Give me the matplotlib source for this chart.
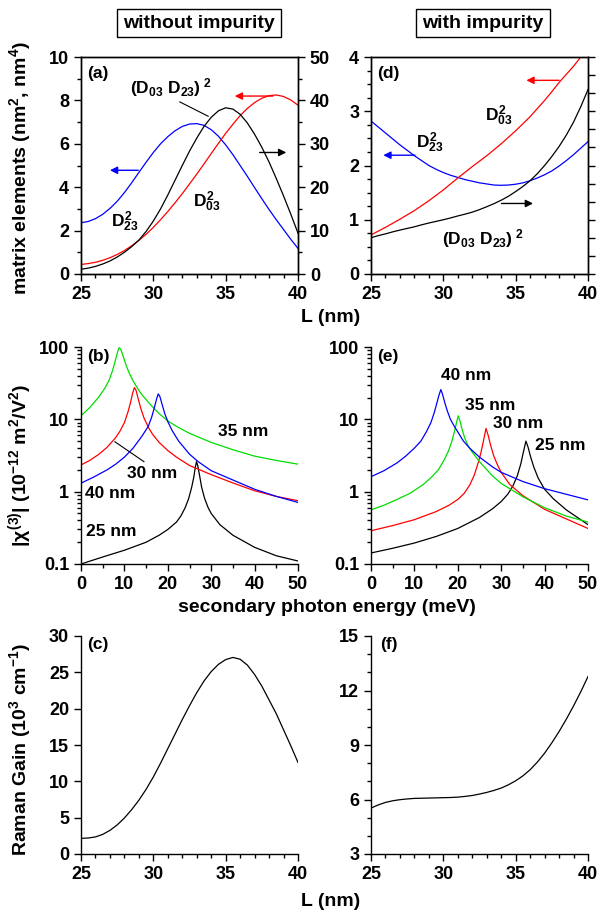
import matplotlib
matplotlib.use("Agg")
import matplotlib.pyplot as plt
from matplotlib.ticker import MultipleLocator, FuncFormatter, NullFormatter, LogLocator, FixedLocator

plt.rcParams['font.family'] = ['Liberation Sans', 'DejaVu Sans']
plt.rcParams['font.weight'] = 'bold'
plt.rcParams['axes.labelweight'] = 'bold'
plt.rcParams['mathtext.fontset'] = 'custom'
plt.rcParams['mathtext.rm'] = 'Liberation Sans:bold'
plt.rcParams['mathtext.it'] = 'Liberation Sans:bold'
plt.rcParams['mathtext.bf'] = 'Liberation Sans:bold'
plt.rcParams['mathtext.sf'] = 'Liberation Sans:bold'

# ---------------- data ----------------
L = [25, 25.5, 26, 26.5, 27, 27.5, 28, 28.5, 29, 29.5, 30, 30.5, 31, 31.5, 32, 32.5,
     33, 33.5, 34, 34.5, 35, 35.5, 36, 36.5, 37, 37.5, 38, 38.5, 39, 39.5, 40]

# (a) without impurity
a_D23 = [2.36, 2.42, 2.55, 2.75, 3.02, 3.35, 3.75, 4.2, 4.68, 5.15, 5.6, 6.0, 6.33, 6.6, 6.8, 6.91,
         6.93, 6.85, 6.65, 6.35, 5.95, 5.5, 5.0, 4.5, 3.98, 3.47, 2.97, 2.5, 2.05, 1.6, 1.18]
a_D03 = [0.44, 0.48, 0.54, 0.63, 0.75, 0.9, 1.08, 1.3, 1.55, 1.83, 2.15, 2.5, 2.88, 3.28, 3.7, 4.15,
         4.6, 5.07, 5.55, 6.02, 6.48, 6.9, 7.3, 7.63, 7.9, 8.1, 8.22, 8.25, 8.18, 8.02, 7.78]
a_D03D23 = [1.1, 1.35, 1.75, 2.3, 3.0, 3.9, 5.0, 6.3, 7.8, 9.8, 12.2, 15.0, 18.2, 21.6, 25.0, 28.3,
            31.3, 34.0, 36.1, 37.6, 38.3, 38.0, 36.8, 34.8, 32.2, 29.2, 25.8, 22.0, 18.0, 13.8, 9.4]

# (d) with impurity
d_D23 = [2.82, 2.71, 2.6, 2.49, 2.38, 2.28, 2.18, 2.09, 2.0, 1.93, 1.87, 1.82, 1.78, 1.74, 1.71, 1.68,
         1.66, 1.64, 1.635, 1.64, 1.655, 1.68, 1.72, 1.77, 1.83, 1.9, 1.99, 2.09, 2.2, 2.32, 2.44]
d_D03 = [0.72, 0.79, 0.86, 0.935, 1.01, 1.09, 1.17, 1.26, 1.35, 1.45, 1.55, 1.66, 1.77, 1.875, 1.98, 2.08,
         2.18, 2.29, 2.4, 2.52, 2.64, 2.77, 2.9, 3.05, 3.2, 3.36, 3.53, 3.68, 3.83, 4.0, 4.17]
d_D03D23 = [2.01, 2.12, 2.22, 2.33, 2.43, 2.52, 2.61, 2.72, 2.82, 2.91, 3.0, 3.1, 3.21, 3.31, 3.42, 3.56,
            3.72, 3.89, 4.08, 4.3, 4.56, 4.84, 5.16, 5.55, 6.0, 6.5, 7.05, 7.68, 8.4, 9.25, 10.2]

# (b) |chi3| without impurity
b_E25 = [0, 5, 10, 15, 18, 20, 22, 23, 24, 24.8, 25.5, 26, 26.3, 26.6, 26.9, 27.3, 27.8, 28.5, 29.3, 30, 32, 35, 40, 45, 50]
b_V25 = [0.1, 0.125, 0.155, 0.2, 0.25, 0.3, 0.38, 0.46, 0.6, 0.8, 1.15, 1.6, 2.1, 2.6, 2.3, 1.7, 1.15, 0.8, 0.6, 0.5, 0.35, 0.25, 0.17, 0.13, 0.11]
b_E30 = [0, 2, 4, 6, 8, 9, 10, 10.8, 11.4, 11.9, 12.3, 12.7, 13.2, 13.8, 14.5, 15.5, 16.5, 18, 20, 22, 25, 30, 35, 40, 45, 50]
b_V30 = [2.34, 2.7, 3.25, 4.1, 5.6, 6.9, 9.0, 12.5, 17, 23, 27.5, 25, 19, 14, 10.5, 7.8, 6.2, 4.8, 3.7, 3.0, 2.3, 1.72, 1.32, 1.03, 0.86, 0.75]
b_E35 = [0, 2, 4, 5.5, 6.5, 7.3, 8, 8.5, 8.8, 9.2, 9.7, 10.3, 11, 12, 13, 14, 16, 18, 20, 22, 25, 30, 35, 40, 45, 50]
b_V35 = [11.2, 14.5, 20, 27, 35, 48, 68, 88, 98, 92, 75, 58, 45, 34, 27, 22, 16, 12, 9.5, 8.0, 6.4, 4.8, 3.8, 3.1, 2.7, 2.4]
b_E40 = [0, 3, 6, 8, 10, 12, 14, 15.5, 16.3, 16.9, 17.4, 17.8, 18.2, 18.7, 19.3, 20, 21, 22.5, 25, 27, 30, 35, 40, 45, 50]
b_V40 = [1.31, 1.6, 2.0, 2.4, 3.0, 4.0, 5.8, 8.0, 10.8, 14.5, 19, 22.5, 20.5, 16, 12, 9.3, 7.0, 5.0, 3.3, 2.6, 1.95, 1.45, 1.08, 0.86, 0.71]

# (e) |chi3| with impurity
e_E25 = [0, 5, 10, 15, 20, 25, 28, 30, 31.5, 32.7, 33.7, 34.5, 35.1, 35.7, 36.2, 36.8, 37.5, 38.5, 40, 42, 45, 50]
e_V25 = [0.142, 0.165, 0.195, 0.24, 0.31, 0.44, 0.58, 0.73, 0.92, 1.2, 1.65, 2.4, 3.5, 5.0, 4.1, 3.0, 2.2, 1.55, 1.08, 0.8, 0.56, 0.35]
e_E30 = [0, 5, 10, 15, 18, 20, 21.5, 22.8, 23.8, 24.6, 25.3, 25.9, 26.5, 27.0, 27.6, 28.3, 29.2, 30, 32, 35, 40, 45, 50]
e_V30 = [0.288, 0.34, 0.41, 0.53, 0.65, 0.78, 0.95, 1.25, 1.7, 2.4, 3.4, 5.0, 7.5, 6.0, 4.3, 3.1, 2.3, 1.85, 1.25, 0.88, 0.57, 0.42, 0.31]
e_E35 = [0, 3, 6, 9, 12, 14, 15.5, 16.8, 17.8, 18.6, 19.2, 19.7, 20.1, 20.5, 21.0, 21.6, 22.3, 23.2, 25, 28, 30, 35, 40, 45, 50]
e_V35 = [0.56, 0.65, 0.78, 0.95, 1.25, 1.6, 2.0, 2.7, 3.6, 4.9, 6.7, 9.0, 11.2, 9.5, 7.2, 5.5, 4.4, 3.6, 2.6, 1.65, 1.3, 0.85, 0.6, 0.46, 0.38]
e_E40 = [0, 3, 6, 8, 10, 11.5, 12.8, 13.8, 14.6, 15.2, 15.7, 16.1, 16.5, 17.0, 17.6, 18.3, 19.2, 20, 21.3, 22.8, 25, 28, 30, 35, 40, 45, 50]
e_V40 = [1.61, 1.95, 2.5, 3.1, 4.0, 5.0, 6.8, 9.0, 12.5, 17, 22, 25.8, 22, 17, 13, 10, 8.0, 6.7, 5.0, 3.96, 3.0, 2.2, 1.85, 1.38, 1.1, 0.92, 0.77]

# (c), (f) Raman gain
c_gain = [2.15, 2.2, 2.35, 2.7, 3.25, 4.0, 4.95, 6.1, 7.4, 8.9, 10.6, 12.5, 14.5, 16.5, 18.5, 20.4,
          22.2, 23.8, 25.1, 26.1, 26.75, 27.05, 26.8, 26.0, 24.7, 23.1, 21.2, 19.3, 17.1, 14.9, 12.6]
f_gain = [5.53, 5.7, 5.84, 5.93, 5.99, 6.03, 6.06, 6.07, 6.08, 6.09, 6.1, 6.11, 6.13, 6.17, 6.22, 6.3,
          6.39, 6.5, 6.63, 6.81, 7.03, 7.3, 7.64, 8.06, 8.55, 9.12, 9.74, 10.42, 11.15, 11.93, 12.77]

# ---------------- figure ----------------
W, H = 598, 916
fig = plt.figure(figsize=(W / 100, H / 100), dpi=100)

def box(x0, y_top, x1, y_bot):
    return [x0 / W, 1 - y_bot / H, (x1 - x0) / W, (y_bot - y_top) / H]

TFS = 13
NFS = 12.5
LW = 0.9

def style(ax, full=False):
    for s in ax.spines.values():
        s.set_linewidth(1.0)
    if not full:
        ax.spines['top'].set_visible(False)
        ax.spines['right'].set_visible(False)
    ax.tick_params(which='both', direction='out', labelsize=TFS, width=1.0, top=False, right=False)
    ax.tick_params(which='major', length=5)
    ax.tick_params(which='minor', length=3)

axa = fig.add_axes(box(81, 57, 298, 274))
axd = fig.add_axes(box(371, 57, 588, 274))
axb = fig.add_axes(box(81, 347, 298, 564))
axe = fig.add_axes(box(371, 347, 588, 564))
axc = fig.add_axes(box(81, 636, 298, 854))
axf = fig.add_axes(box(371, 636, 588, 854))

arrow_kw = dict(arrowstyle='-|>', lw=1.0, mutation_scale=11, shrinkA=0, shrinkB=0)

# ----- (a)
style(axa, full=True)
axa.plot(L, a_D23, color='blue', lw=LW)
axa.plot(L, a_D03, color='red', lw=LW)
axa.set_xlim(25, 40)
axa.set_ylim(0, 10)
axa.xaxis.set_major_locator(MultipleLocator(5))
axa.xaxis.set_minor_locator(MultipleLocator(1))
axa.yaxis.set_major_locator(MultipleLocator(2))
axa.yaxis.set_minor_locator(MultipleLocator(1))
axa2 = axa.twinx()
axa2.plot(L, a_D03D23, color='black', lw=LW)
axa2.set_ylim(0, 50)
axa2.yaxis.set_major_locator(MultipleLocator(10))
axa2.yaxis.set_minor_locator(MultipleLocator(5))
axa2.tick_params(which='both', direction='out', labelsize=TFS, width=1.0)
axa2.tick_params(which='major', length=5)
axa2.tick_params(which='minor', length=3)
for s in axa2.spines.values():
    s.set_linewidth(1.0)
axa.text(0.03, 0.96, '(a)', transform=axa.transAxes, ha='left', va='top', fontsize=NFS)
axa.text(31.19, 8.59, r'$(D_{03}\ D_{23})^{\ 2}$', ha='center', va='center', fontsize=NFS)
axa.plot([31.83, 33.79], [7.93, 7.27], color='black', lw=0.8)
axa.text(28.04, 2.41, r'$D_{23}^{2}$', ha='center', va='center', fontsize=NFS)
axa.text(33.67, 3.33, r'$D_{03}^{2}$', ha='center', va='center', fontsize=NFS)
axa.annotate('', xy=(27.0, 4.78), xytext=(28.96, 4.78), arrowprops=dict(color='blue', **arrow_kw))
axa.annotate('', xy=(35.63, 8.2), xytext=(38.27, 8.2), arrowprops=dict(color='red', **arrow_kw))
axa.annotate('', xy=(39.19, 5.6), xytext=(37.35, 5.6), arrowprops=dict(color='black', **arrow_kw))

# ----- (d)
style(axd, full=True)
axd.plot(L, d_D23, color='blue', lw=LW)
axd.plot(L, d_D03, color='red', lw=LW)
axd.set_xlim(25, 40)
axd.set_ylim(0, 4)
axd.xaxis.set_major_locator(MultipleLocator(5))
axd.xaxis.set_minor_locator(MultipleLocator(1))
axd.yaxis.set_major_locator(MultipleLocator(1))
axd.yaxis.set_minor_locator(MultipleLocator(0.25))
axd2 = axd.twinx()
axd2.plot(L, d_D03D23, color='black', lw=LW)
axd2.set_ylim(0, 12)
axd2.yaxis.set_major_locator(MultipleLocator(1))
axd2.tick_params(which='both', direction='out', labelright=False, width=1.0, length=5)
for s in axd2.spines.values():
    s.set_linewidth(1.0)
axd.text(0.03, 0.96, '(d)', transform=axd.transAxes, ha='left', va='top', fontsize=NFS)
axd.text(32.75, 0.66, r'$(D_{03}\ D_{23})^{\ 2}$', ha='center', va='center', fontsize=NFS)
axd.text(29.07, 2.42, r'$D_{23}^{2}$', ha='center', va='center', fontsize=NFS)
axd.text(33.8, 2.91, r'$D_{03}^{2}$', ha='center', va='center', fontsize=NFS)
axd.annotate('', xy=(25.85, 2.19), xytext=(28.04, 2.19), arrowprops=dict(color='blue', **arrow_kw))
axd.annotate('', xy=(35.74, 3.57), xytext=(38.0, 3.57), arrowprops=dict(color='red', **arrow_kw))
axd.annotate('', xy=(36.2, 1.30), xytext=(34.02, 1.30), arrowprops=dict(color='black', **arrow_kw))

# ----- (b), (e)
def logstyle(ax):
    style(ax)
    ax.set_yscale('log')
    ax.set_ylim(0.1, 100)
    ax.set_xlim(0, 50)
    ax.xaxis.set_major_locator(MultipleLocator(10))
    ax.xaxis.set_minor_locator(MultipleLocator(5))
    ax.yaxis.set_major_locator(FixedLocator([0.1, 1, 10, 100]))
    ax.yaxis.set_major_formatter(FuncFormatter(lambda v, p: f'{v:g}'))
    ax.yaxis.set_minor_locator(LogLocator(base=10, subs=[2, 3, 4, 5, 6, 7, 8, 9]))
    ax.yaxis.set_minor_formatter(NullFormatter())

GREEN = '#00dd00'
logstyle(axb)
axb.plot(b_E25, b_V25, color='black', lw=LW)
axb.plot(b_E30, b_V30, color='red', lw=LW)
axb.plot(b_E35, b_V35, color=GREEN, lw=LW)
axb.plot(b_E40, b_V40, color='blue', lw=LW)
axb.text(0.03, 0.99, '(b)', transform=axb.transAxes, ha='left', va='top', fontsize=NFS)
axb.text(37.3, 6.7, '35 nm', ha='center', va='center', fontsize=NFS)
axb.text(16.3, 1.76, '30 nm', ha='center', va='center', fontsize=NFS)
axb.text(6.8, 0.95, '40 nm', ha='center', va='center', fontsize=NFS)
axb.text(7.05, 0.28, '25 nm', ha='center', va='center', fontsize=NFS)
axb.plot([7.8, 14.5], [4.9, 2.6], color='black', lw=0.8)

logstyle(axe)
axe.plot(e_E25, e_V25, color='black', lw=LW)
axe.plot(e_E30, e_V30, color='red', lw=LW)
axe.plot(e_E35, e_V35, color=GREEN, lw=LW)
axe.plot(e_E40, e_V40, color='blue', lw=LW)
axe.text(0.03, 0.99, '(e)', transform=axe.transAxes, ha='left', va='top', fontsize=NFS)
axe.text(22.0, 40.6, '40 nm', ha='center', va='center', fontsize=NFS)
axe.text(27.4, 15.7, '35 nm', ha='center', va='center', fontsize=NFS)
axe.text(33.9, 8.8, '30 nm', ha='center', va='center', fontsize=NFS)
axe.text(43.5, 4.4, '25 nm', ha='center', va='center', fontsize=NFS)

# ----- (c), (f)
style(axc)
axc.plot(L, c_gain, color='black', lw=LW)
axc.set_xlim(25, 40)
axc.set_ylim(0, 30)
axc.xaxis.set_major_locator(MultipleLocator(5))
axc.xaxis.set_minor_locator(MultipleLocator(1))
axc.yaxis.set_major_locator(MultipleLocator(5))
axc.text(0.03, 0.995, '(c)', transform=axc.transAxes, ha='left', va='top', fontsize=NFS)

style(axf)
axf.plot(L, f_gain, color='black', lw=LW)
axf.set_xlim(25, 40)
axf.set_ylim(3, 15)
axf.xaxis.set_major_locator(MultipleLocator(3 * 1))
axf.xaxis.set_major_locator(MultipleLocator(5))
axf.xaxis.set_minor_locator(MultipleLocator(1))
axf.yaxis.set_major_locator(MultipleLocator(3))
axf.yaxis.set_minor_locator(MultipleLocator(1))
axf.text(0.04, 0.995, '(f)', transform=axf.transAxes, ha='left', va='top', fontsize=NFS)

# ----- figure-level labels
LFS = 14
fig.text(199 / W, 1 - 23 / H, 'without impurity', ha='center', va='center', fontsize=14,
         bbox=dict(boxstyle='square,pad=0.3', fc='white', ec='black', lw=1.0))
fig.text(483 / W, 1 - 23 / H, 'with impurity', ha='center', va='center', fontsize=14,
         bbox=dict(boxstyle='square,pad=0.3', fc='white', ec='black', lw=1.0))
fig.text(331 / W, 1 - 318 / H, 'L (nm)', ha='center', va='center', fontsize=LFS)
fig.text(327 / W, 1 - 607 / H, 'secondary photon energy (meV)', ha='center', va='center', fontsize=LFS)
fig.text(331 / W, 1 - 902 / H, 'L (nm)', ha='center', va='center', fontsize=LFS)
fig.text(20 / W, 1 - 168 / H, 'matrix elements (nm$^2$, nm$^4$)', rotation=90, ha='center', va='center', fontsize=LFS)
fig.text(20 / W, 1 - 466 / H, r'|$\chi^{(3)}$| (10$^{-12}$ m$^2$/V$^2$)', rotation=90, ha='center', va='center', fontsize=LFS)
fig.text(20 / W, 1 - 750 / H, 'Raman Gain (10$^3$ cm$^{-1}$)', rotation=90, ha='center', va='center', fontsize=LFS)

fig.savefig('out.png', dpi=100)
